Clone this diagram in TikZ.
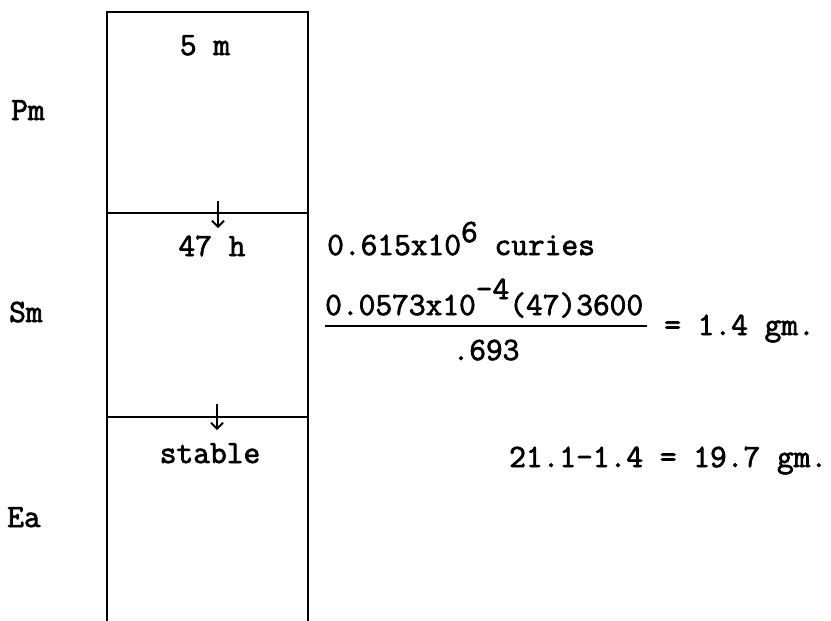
\documentclass[tikz,border=0pt]{standalone}
\usepackage{fontspec}
\setmonofont{Latin Modern Mono}[FakeBold=2.2]
\usetikzlibrary{arrows.meta}
\begin{document}
\begin{tikzpicture}[x=1pt,y=-1pt,
  tw/.style={font=\ttfamily\fontsize{32.5}{38}\selectfont, inner sep=0pt},
  boxline/.style={line width=2.2pt},
  decay/.style={line width=1.8pt,-{Straight Barb[length=6pt,width=12pt,line width=1.8pt]}}]
\useasboundingbox (0,0) rectangle (831,621);
\clip (0,0) rectangle (831,621);
% column
\draw[boxline] (107,640) -- (107,12) -- (308,12) -- (308,640);
\draw[boxline] (107,213) -- (308,213);
\draw[boxline] (107,417) -- (308,417);
% decay arrows
\coordinate (a1s) at (218,201);
\coordinate (a1e) at (218,228);
\coordinate (a2s) at (217,404);
\coordinate (a2e) at (217,430);
\draw[decay] (a1s) -- (a1e);
\draw[decay] (a2s) -- (a2e);
% half lives
\node[tw, anchor=base] (hl1) at (205,55) {5 m};
\node[tw, anchor=base] (hl2) at (212,256) {47 h};
\node[tw, anchor=base] (hl3) at (210,463) {stable};
% elements
\node[tw, anchor=base west] (pm) at (11,120) {Pm};
\node[tw, anchor=base west] (sm) at (9,322) {Sm};
\node[tw, anchor=base west] (ea) at (7,527) {Ea};
% calculations
\node[tw, anchor=base west] (cur) at (327,255) {0.615x10\raisebox{13pt}{6} curies};
\node[tw, anchor=base west] (num) at (325,315) {0.0573x10\raisebox{16pt}{-4}(47)3600};
\coordinate (barl) at (325,326);
\coordinate (barr) at (647,326);
\draw[line width=1.8pt] (barl) -- (barr);
\node[tw, anchor=base] (den) at (486,360) {.693};
\node[tw, anchor=base west] (res1) at (664,335) {= 1.4 gm.};
\node[tw, anchor=base west] (res2) at (509,467) {21.1-1.4 = 19.7 gm.};
\end{tikzpicture}
\end{document}
